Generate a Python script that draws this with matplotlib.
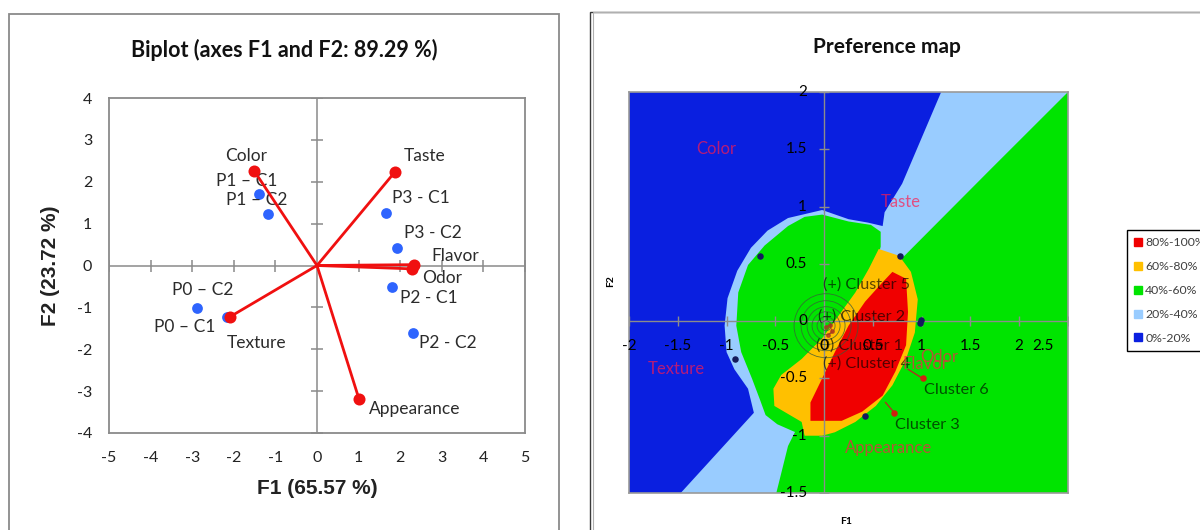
import matplotlib
matplotlib.use('Agg')
import matplotlib.pyplot as plt
import numpy as np
from matplotlib.patches import Polygon, Rectangle, Ellipse
from matplotlib.lines import Line2D

plt.rcParams['font.family'] = ['Lato', 'DejaVu Sans']
plt.rcParams['axes.unicode_minus'] = False

# ---- biplot data (F1, F2 coordinates) ----
var_names = ['Color', 'Taste', 'Flavor', 'Odor', 'Texture', 'Appearance']
var_f1 = [-1.51, 1.87, 2.34, 2.28, -2.10, 1.01]
var_f2 = [2.26, 2.23, 0.02, -0.08, -1.23, -3.19]

obs_names = ['P1 – C1', 'P1 – C2', 'P3 - C1', 'P3 - C2', 'P2 - C1', 'P2 - C2', 'P0 – C2', 'P0 – C1']
obs_f1 = [-1.39, -1.18, 1.66, 1.93, 1.81, 2.30, -2.88, -2.17]
obs_f2 = [1.71, 1.22, 1.25, 0.41, -0.52, -1.60, -1.02, -1.23]

# ---- preference map zones (outlines in F1/F2 units) ----
zone_labels = ['80%-100%', '60%-80%', '40%-60%', '20%-40%', '0%-20%']
zone_colors = ['#F00000', '#FFC000', '#00E400', '#99CCFF', '#0A1FE0']

lightblue_f1 = [-2, -0.49, -0.37, -0.30, 0.80, 1.70, 2.5, -2]
lightblue_f2 = [-1.5, -1.5, -1.09, -0.97, 0.55, 1.32, 2.0, 2.0]

blue_f1 = [-2, 1.20, 1.00, 0.80, 0.62, 0.60, 0.45, 0.25, -0.02, -0.37, -0.58, -0.75,
           -0.89, -0.99, -1.02, -1.00, -0.92, -0.78, -0.72, -1.47, -2]
blue_f2 = [2, 2, 1.60, 1.20, 0.95, 0.83, 0.86, 0.89, 0.97, 0.90, 0.79, 0.64,
           0.44, 0.20, -0.04, -0.27, -0.42, -0.59, -0.80, -1.5, -1.5]

green_f1 = [0.58, 0.58, 0.48, 0.25, -0.02, -0.20, -0.37, -0.61, -0.78, -0.88, -0.90,
            -0.85, -0.74, -0.66, -0.60, -0.48, -0.32, -0.20, 0.20]
green_f2 = [0.65, 0.78, 0.84, 0.87, 0.93, 0.91, 0.83, 0.66, 0.49, 0.25, -0.04,
            -0.27, -0.50, -0.68, -0.82, -0.90, -0.96, -1.00, -0.50]

gold_f1 = [0.56, 0.77, 0.89, 0.96, 0.93, 0.84, 0.70, 0.53, 0.32, 0.11, -0.02, -0.20,
           -0.23, -0.51, -0.52, -0.44, -0.23, -0.02, 0.15, 0.32, 0.46]
gold_f2 = [0.63, 0.57, 0.43, 0.19, -0.10, -0.33, -0.56, -0.74, -0.88, -0.97, -1.00, -1.00,
           -0.88, -0.74, -0.59, -0.47, -0.33, -0.15, 0.05, 0.25, 0.46]

red_f1 = [0.70, 0.84, 0.86, 0.84, 0.73, 0.60, 0.39, 0.18, -0.14, -0.14, -0.02, 0.11,
          0.25, 0.42, 0.60]
red_f2 = [0.43, 0.37, 0.08, -0.21, -0.44, -0.65, -0.79, -0.87, -0.87, -0.71, -0.50, -0.27,
          -0.04, 0.17, 0.34]

# products projected on the map
prod_f1 = [-0.66, 0.78, 0.98, 0.99, -0.91, 0.42]
prod_f2 = [0.57, 0.57, -0.02, 0.01, -0.33, -0.83]

# consumer clusters
cluster_names = ['(+) Cluster 5', '(+) Cluster 2', '(0) Cluster 1', '(+) Cluster 4', 'Cluster 6', 'Cluster 3']
cluster_f1 = [-0.01, -0.06, -0.08, -0.01, 1.02, 0.73]
cluster_f2 = [0.32, 0.04, -0.21, -0.37, -0.60, -0.91]
ideal_f1 = [1.01, 0.72]
ideal_f2 = [-0.50, -0.80]
ideal_from_f1 = [0.86, 0.63]
ideal_from_f2 = [-0.42, -0.71]
center_f1 = [0.02, 0.06, 0.08, 0.04]
center_f2 = [-0.05, -0.03, -0.09, -0.12]
contour_r = [5, 9, 14, 19, 25, 32]   # pixels

# variable names on the map
mapvar_names = ['Color', 'Taste', 'Texture', 'Odor', 'Flavor', 'Appearance']
mapvar_f1 = [-1.11, 0.79, -1.51, 1.18, 1.04, 0.66]
mapvar_f2 = [1.50, 1.04, -0.42, -0.31, -0.37, -1.11]

W, H = 1200, 530
fig = plt.figure(figsize=(W / 100, H / 100), dpi=100)

# outer chart frames
fig.add_artist(Rectangle((9 / W, -0.05), 550 / W, 1.05 - 14 / H, transform=fig.transFigure,
                         fill=False, ec='#8a8a8a', lw=1.3))
fig.add_artist(Rectangle((590 / W, -0.05), 0.6, 1.05 - 12 / H, transform=fig.transFigure,
                         fill=False, ec='#3a3a3a', lw=1.0))
fig.add_artist(Rectangle((593 / W, -0.05), 0.6, 1.05 - 12 / H, transform=fig.transFigure,
                         fill=False, ec='#b0b0b0', lw=0.8))

# ================= biplot =================
ax = fig.add_axes([109 / W, 1 - 433 / H, 416 / W, 335 / H])
ax.set_xlim(-5, 5)
ax.set_ylim(-4, 4)
ax.set_xticks(range(-5, 6))
ax.set_yticks(range(-4, 5))
for s in ax.spines.values():
    s.set_color('#8a8a8a')
    s.set_linewidth(1.3)
ax.tick_params(length=0, labelsize=11.5, colors='#222222')
ax.tick_params(axis='x', pad=13)
ax.tick_params(axis='y', pad=12)
ax.axhline(0, color='#8a8a8a', lw=1.1, zorder=1)
ax.axvline(0, color='#8a8a8a', lw=1.1, zorder=1)
xt = [t for t in ax.get_xticks() if t != 0]
yt = [t for t in ax.get_yticks() if t != 0]
ax.plot(xt, np.zeros(len(xt)), ls='', marker='|', ms=8, color='#8a8a8a', mew=1.1, zorder=1)
ax.plot(np.zeros(len(yt)), yt, ls='', marker='_', ms=8, color='#8a8a8a', mew=1.1, zorder=1)

ax.scatter(obs_f1, obs_f2, s=60, color='#2E64FE', zorder=3, linewidths=0)
obs_off = [(-12, 13), (-11, 14), (35, 15), (36, 15), (37, -11), (35, -11), (5, 18), (-42, -10)]
for name, x, y, off in zip(obs_names, obs_f1, obs_f2, obs_off):
    ax.annotate(name, (x, y), xytext=off, textcoords='offset pixels', ha='center', va='center',
                fontsize=12.5, color='#2b2b2b', zorder=4)

var_off = [(-8, 15), (30, 16), (41, 9), (30, -9), (27, -26), (56, -10)]
for name, x, y, off in zip(var_names, var_f1, var_f2, var_off):
    ax.plot([0, x], [0, y], color='#F01010', lw=2.0, zorder=5)
    ax.annotate(name, (x, y), xytext=off, textcoords='offset pixels', ha='center', va='center',
                fontsize=12.5, color='#2b2b2b', zorder=4)
ax.scatter(var_f1, var_f2, s=75, color='#F01010', zorder=6, linewidths=0)

ax.set_xlabel('F1 (65.57 %)', family='Liberation Sans', fontweight='bold', fontsize=15,
              color='#222222', labelpad=10)
ax.set_ylabel('F2 (23.72 %)', family='Liberation Sans', fontweight='bold', fontsize=15,
              color='#222222', labelpad=12)
fig.text(284 / W, 1 - 50 / H, 'Biplot (axes F1 and F2: 89.29 %)', ha='center', va='center',
         fontsize=15.5, fontweight='bold', color='#111111')

# ================= preference map =================
ax2 = fig.add_axes([629 / W, 1 - 493 / H, 439 / W, 401 / H])
ax2.set_xlim(-2, 2.5)
ax2.set_ylim(-1.5, 2)
ax2.set_facecolor(zone_colors[2])
ax2.set_xticks([])
ax2.set_yticks([])
for s in ax2.spines.values():
    s.set_color('#9a9a9a')
    s.set_linewidth(1.2)

layers = [(lightblue_f1, lightblue_f2, zone_colors[3]),
          (blue_f1, blue_f2, zone_colors[4]),
          (green_f1, green_f2, zone_colors[2]),
          (gold_f1, gold_f2, zone_colors[1]),
          (red_f1, red_f2, zone_colors[0])]
for xs, ys, c in layers:
    ax2.add_patch(Polygon(np.column_stack([xs, ys]), closed=True, fc=c, ec='none', zorder=1))

ax2.axhline(0, color='#8c8c8c', lw=1.0, zorder=2)
ax2.axvline(0, color='#8c8c8c', lw=1.0, zorder=2)
map_xt = np.arange(-2, 2.51, 0.5)
map_yt = np.arange(-1.5, 2.01, 0.5)
ax2.plot(map_xt, np.zeros(len(map_xt)), ls='', marker='|', ms=7, color='#8c8c8c', zorder=2)
ax2.plot(np.zeros(len(map_yt)), map_yt, ls='', marker='_', ms=7, color='#8c8c8c', zorder=2)
for t in map_xt:
    lab = f'{t:g}'
    if t == map_xt[-1]:
        ax2.annotate(lab, (t, 0), xytext=(-14, -25), textcoords='offset pixels', ha='right',
                     va='center', fontsize=11, zorder=6)
    else:
        ax2.annotate(lab, (t, 0), xytext=(0, -25), textcoords='offset pixels', ha='center',
                     va='center', fontsize=11, zorder=6)
for t in map_yt:
    ax2.annotate(f'{t:g}', (0, t), xytext=(-17, 0), textcoords='offset pixels', ha='right',
                 va='center', fontsize=11, zorder=6)

# contours around the central ideal points
px_x = 439 / 4.5
px_y = 401 / 3.5
for r in contour_r:
    ax2.add_patch(Ellipse((0.02, -0.04), 2 * r / px_x, 2 * r / px_y, fill=False,
                          ec='#3a5a3a', lw=0.6, alpha=0.8, zorder=3))
ax2.plot(center_f1, center_f2, ls='-', marker='o', ms=2.5, color='#B03020', lw=0.8,
         alpha=0.7, zorder=3)

ax2.scatter(prod_f1, prod_f2, s=22, color='#141a5c', zorder=4, linewidths=0)
for x0, y0, x1, y1 in zip(ideal_from_f1, ideal_from_f2, ideal_f1, ideal_f2):
    ax2.plot([x0, x1], [y0, y1], color='#B03020', lw=1.0, zorder=4)
ax2.scatter(ideal_f1, ideal_f2, s=22, color='#D02010', zorder=5, linewidths=0)

for name, x, y in zip(cluster_names, cluster_f1, cluster_f2):
    ax2.text(x, y, name, ha='left', va='center', fontsize=11.7, color='black', alpha=0.65,
             zorder=5)
for name, x, y in zip(mapvar_names, mapvar_f1, mapvar_f2):
    ax2.text(x, y, name, ha='center', va='center', fontsize=12, color='#FF1A4D', alpha=0.7,
             zorder=5)

fig.text(887 / W, 1 - 47 / H, 'Preference map', ha='center', va='center', fontsize=15,
         fontweight='bold', color='#111111')
fig.text(846 / W, 1 - 522 / H, 'F1', ha='center', va='center', fontsize=7.5, fontweight='bold')
fig.text(611 / W, 1 - 281 / H, 'F2', ha='center', va='center', fontsize=7.5, fontweight='bold',
         rotation=90)

handles = [Line2D([], [], ls='', marker='s', ms=5.5, color=c) for c in zone_colors]
fig.legend(handles, zone_labels, loc='upper left', bbox_to_anchor=(1127 / W, 1 - 230 / H),
           frameon=True, fancybox=False, edgecolor='black', framealpha=1, fontsize=8.8,
           labelcolor='#404040', handlelength=0.6, handletextpad=0.3, labelspacing=1.05,
           borderpad=0.6, borderaxespad=0)

fig.savefig('out.png', dpi=100)
